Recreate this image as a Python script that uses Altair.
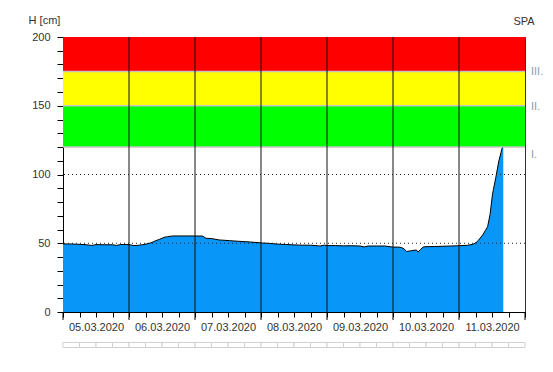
import json
import altair as alt
import pandas as pd

# hours since 05.03.2020 00:00 and water level H [cm]
hours = [0, 2, 5, 8, 10.5, 12, 15, 18, 19.5, 21,
         24, 25.5, 27, 29, 30.2, 32, 33.8, 35, 36.8, 38, 39.8, 44,
         48, 50.8, 52, 54, 56.8, 60.5, 64, 68.2,
         72.5, 75, 78, 81, 84, 87, 90, 93.5, 95,
         96, 99, 102, 105, 108, 109.5, 111, 114, 117,
         120, 122, 123, 124, 124.9, 126.7, 128.5, 129.1, 130, 131, 132, 135, 138, 141,
         144, 147, 149, 150.2, 151, 152.6, 153.5, 154.4, 155.3, 156.2, 156.5, 157.4, 158.5, 159.8, 160.1]
levels = [49.5, 49.5, 49.3, 49.0, 48.4, 49.0, 48.9, 48.9, 48.4, 49.1,
          49.0, 48.4, 48.4, 49.0, 49.4, 50.3, 51.9, 52.8, 54.3, 54.8, 55.3, 55.3,
          55.3, 55.2, 53.6, 53.4, 52.4, 51.9, 51.4, 50.9,
          50.2, 49.9, 49.4, 49.1, 48.8, 48.6, 48.6, 48.0, 48.6,
          48.3, 48.3, 48.1, 48.2, 48.0, 47.3, 48.0, 48.0, 48.0,
          47.2, 47.2, 46.9, 46.0, 44.0, 44.6, 45.1, 43.6, 45.5, 47.3, 47.5, 47.6, 47.8, 48.0,
          48.2, 48.5, 49.2, 50.5, 52.0, 56.0, 59.0, 62.0, 71.0, 86.0, 89.0, 98.0, 110.0, 120.0, 120.0]

day_labels = ["05.03.2020", "06.03.2020", "07.03.2020", "08.03.2020",
              "09.03.2020", "10.03.2020", "11.03.2020"]
band_low = [120, 150, 175]
band_high = [150, 175, 200]
band_colors = ["#00ff00", "#ffff00", "#ff0000"]
band_names = ["I.", "II.", "III."]
day_lines = [24, 48, 72, 96, 120, 144]
day_ticks = [0, 24, 48, 72, 96, 120, 144, 168]
dotted_levels = [50, 100]
x_ticks = list(range(0, 169, 6))
y_ticks = list(range(0, 201, 10))
corner_text = ["SPA"]

FONT = "Liberation Sans"

df = pd.DataFrame({"h": hours, "H": levels})
bands = pd.DataFrame({"lo": band_low, "hi": band_high, "c": band_colors, "name": band_names})
days = pd.DataFrame({"d": day_lines})
dticks = pd.DataFrame({"d": day_ticks})
dots = pd.DataFrame({"v": dotted_levels})
cells = pd.DataFrame({"s": x_ticks[:-1], "e": x_ticks[1:]})
corner = pd.DataFrame({"t": corner_text})

XS = alt.Scale(domain=[0, 168], nice=False, zero=False)
YS = alt.Scale(domain=[0, 200], nice=False)

label_expr = ("datum.value % 24 == 12 ? " + json.dumps(day_labels) +
              "[floor(datum.value / 24)] : ''")

x_axis = alt.Axis(
    values=x_ticks, tickCount=500, tickSize=5,
    labelExpr=label_expr, labelOverlap=False, labelFlush=False, labelPadding=4,
    grid=False, domainColor="black", tickColor="black", title=None,
    labelFont=FONT, labelFontSize=11, labelColor="#333333",
)
y_axis = alt.Axis(
    values=y_ticks, tickCount=500, format="d",
    labelExpr="datum.value % 50 == 0 ? datum.label : ''",
    labelOverlap=False, tickSize=6, labelPadding=7, grid=False,
    domainColor="black", tickColor="black",
    labelFont=FONT, labelFontSize=11, labelColor="#333333",
    title="H [cm]", titleAngle=0, titleX=-19, titleY=-17, titleAlign="center",
    titleBaseline="middle", titleFont=FONT, titleFontSize=11, titleFontWeight="normal",
    titleColor="#333333",
)

area = alt.Chart(df).mark_area(color="#0896f8", interpolate="linear").encode(
    x=alt.X("h:Q", scale=XS, axis=x_axis),
    y=alt.Y("H:Q", scale=YS, axis=y_axis),
)

band_layer = alt.Chart(bands).mark_rect().encode(
    x=alt.datum(0), x2=alt.datum(168),
    y=alt.Y("lo:Q"), y2="hi:Q",
    fill=alt.Fill("c:N", scale=None),
)

line = alt.Chart(df).mark_line(color="black", strokeWidth=1).encode(
    x="h:Q", y="H:Q",
)

sep = alt.Chart(bands).mark_rule(color="#c4c4c4", strokeWidth=1.5).encode(
    y="lo:Q",
)

day_rules = alt.Chart(days).mark_rule(color="#111111", strokeWidth=1).encode(
    x="d:Q",
)

major_ticks = alt.Chart(dticks).mark_rule(color="black", strokeWidth=1).encode(
    x="d:Q", y=alt.value(275), y2=alt.value(283),
)

dot_rules = alt.Chart(dots).mark_rule(color="#222222", strokeWidth=1, strokeDash=[1, 3]).encode(
    y="v:Q",
)

scroll = alt.Chart(cells).mark_rect(fill="white", stroke="#d0d0d0", strokeWidth=1).encode(
    x="s:Q", x2="e:Q",
    y=alt.value(305.5), y2=alt.value(310.5),
)

text_style = dict(align="left", baseline="middle", font=FONT, fontSize=11, color="#8a9ab2")
band_text_hi = alt.Chart(bands).transform_filter("datum.name != 'I.'").mark_text(
    dy=1, **text_style
).encode(x=alt.value(468), y="lo:Q", text="name:N")
band_text_lo = alt.Chart(bands).transform_filter("datum.name == 'I.'").mark_text(
    dy=8, **text_style
).encode(x=alt.value(468), y="lo:Q", text="name:N")

corner_layer = alt.Chart(corner).mark_text(
    align="center", baseline="middle", font=FONT, fontSize=11, color="#333333",
).encode(x=alt.value(461), y=alt.value(-15), text="t:N")

chart = alt.layer(
    area, band_layer, line, sep, day_rules, major_ticks, dot_rules, scroll,
    band_text_hi, band_text_lo, corner_layer
).properties(
    width=462, height=275,
    autosize=alt.AutoSizeParams(type="none"),
    padding={"left": 63, "top": 37, "right": 28, "bottom": 60},
).configure_view(stroke="#333333", strokeWidth=1)

chart.save("out.html", embed_options={"renderer": "svg", "actions": False})
